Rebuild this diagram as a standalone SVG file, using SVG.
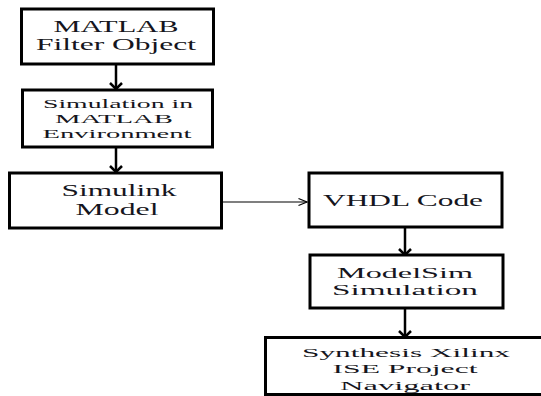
<svg xmlns="http://www.w3.org/2000/svg" width="541" height="396" viewBox="0 0 541 396">
<defs>
<style>
.box{fill:#fff;stroke:#000;stroke-width:3}
.t{font-family:"Liberation Serif","Times New Roman",serif;fill:#151520;text-anchor:middle}
.f16{font-size:16px}
.f15{font-size:15px}
.f14{font-size:13.5px}
.vc{stroke:#000;stroke-width:2.5;fill:none}
.hc{stroke:#000;stroke-width:1.2;fill:none}
.hd{fill:none;stroke:#000;stroke-width:2.5}
</style>
<marker id="ah2" viewBox="0 0 10 10" refX="9.5" refY="5" markerWidth="10" markerHeight="10" orient="auto" markerUnits="userSpaceOnUse">
<path d="M1,1.5 L9.5,5 L1,8.5" fill="none" stroke="#000" stroke-width="1.2"/>
</marker>
</defs>
<rect width="541" height="396" fill="#fff"/>
<g id="connectors">
<path class="vc" d="M116,64 V89"/>
<path class="hd" d="M110,83 L116,89 L122,83"/>
<path class="vc" d="M116,147 V172"/>
<path class="hd" d="M110,166 L116,172 L122,166"/>
<path class="hc" d="M223,202 H307" marker-end="url(#ah2)"/>
<path class="vc" d="M405,227 V255"/>
<path class="hd" d="M399,249 L405,255 L411,249"/>
<path class="vc" d="M405,308 V337"/>
<path class="hd" d="M399,331 L405,337 L411,331"/>
</g>
<g id="n1">
<rect class="box" x="21.5" y="9" width="192" height="55"/>
<text class="t f16" x="116" y="32" textLength="125" lengthAdjust="spacingAndGlyphs">MATLAB</text>
<text class="t f16" x="116" y="50" textLength="160" lengthAdjust="spacingAndGlyphs">Filter Object</text>
</g>
<g id="n2">
<rect class="box" x="22.5" y="90" width="190" height="57"/>
<text class="t f14" x="118" y="108" textLength="150" lengthAdjust="spacingAndGlyphs">Simulation in</text>
<text class="t f14" x="114" y="123" textLength="118" lengthAdjust="spacingAndGlyphs">MATLAB</text>
<text class="t f14" x="117" y="138" textLength="149" lengthAdjust="spacingAndGlyphs">Environment</text>
</g>
<g id="n3">
<rect class="box" x="9.5" y="173" width="212" height="55"/>
<text class="t f16" x="119" y="196" textLength="115" lengthAdjust="spacingAndGlyphs">Simulink</text>
<text class="t f16" x="117" y="215" textLength="83" lengthAdjust="spacingAndGlyphs">Model</text>
</g>
<g id="n4">
<rect class="box" x="309" y="173" width="193" height="54"/>
<text class="t f16" x="403" y="206" textLength="160" lengthAdjust="spacingAndGlyphs">VHDL Code</text>
</g>
<g id="n5">
<rect class="box" x="310" y="255" width="193" height="53"/>
<text class="t f15" x="405" y="278" textLength="136" lengthAdjust="spacingAndGlyphs">ModelSim</text>
<text class="t f15" x="405" y="295" textLength="146" lengthAdjust="spacingAndGlyphs">Simulation</text>
</g>
<g id="n6">
<rect class="box" x="265.5" y="337.5" width="290" height="57"/>
<text class="t f14" x="406" y="357" textLength="208" lengthAdjust="spacingAndGlyphs">Synthesis Xilinx</text>
<text class="t f14" x="405" y="373" textLength="145" lengthAdjust="spacingAndGlyphs">ISE Project</text>
<text class="t f14" x="405" y="390" textLength="130" lengthAdjust="spacingAndGlyphs">Navigator</text>
</g>
</svg>
